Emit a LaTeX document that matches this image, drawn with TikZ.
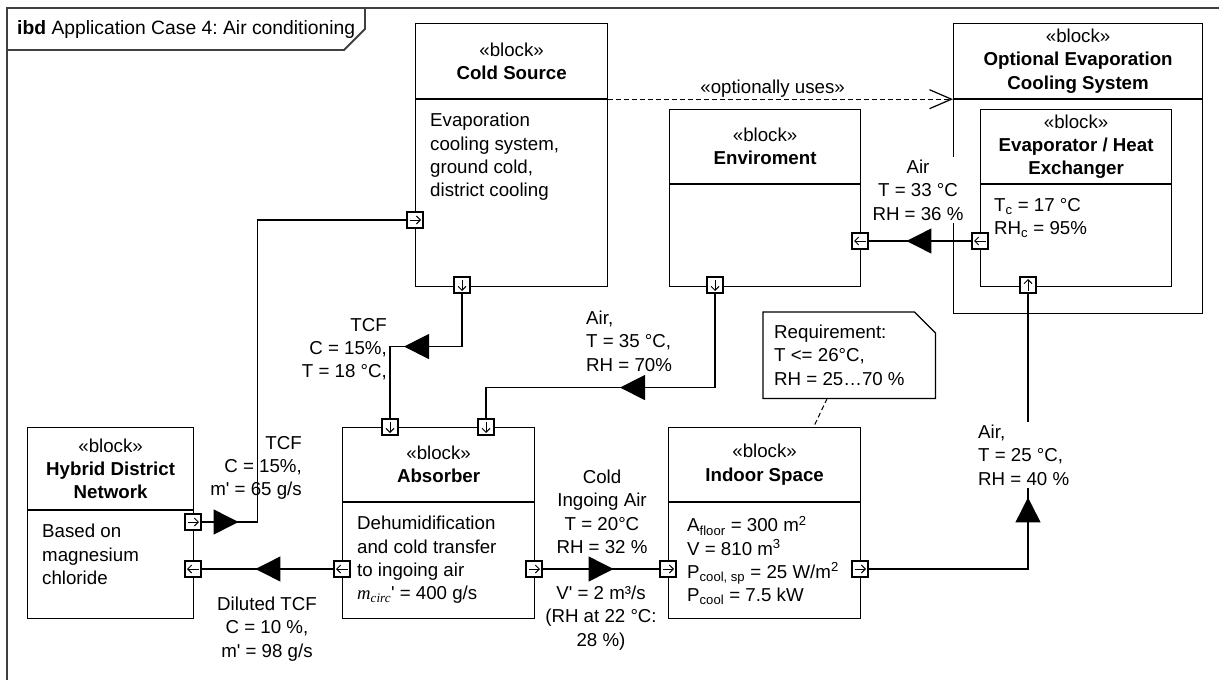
\documentclass[tikz,border=0pt]{standalone}
\usepackage{fontspec}
\setmainfont{Liberation Sans}
\newfontfamily\timesfont{Liberation Serif}
\usetikzlibrary{arrows.meta,decorations.markings,positioning}
\frenchspacing

\begin{document}
\begin{tikzpicture}[x=1pt, y=-1pt,
    font=\fontsize{18.7}{23.2}\selectfont,
    frameline/.style={draw=black!75, line width=1.8pt},
    blockhead/.style={draw, line width=1.2pt, anchor=north west, align=center, inner sep=0pt},
    blockbody/.style={draw, line width=1.2pt, anchor=north, inner sep=0pt},
    bodytext/.style={anchor=north west, align=left, inner sep=0pt},
    flowlabel/.style={inner sep=0pt},
    portbox/.style={draw, fill=white, line width=1.1pt, minimum size=16pt, inner sep=0pt},
    portE/.style={portbox, path picture={\draw[line width=0.9pt, -{Straight Barb[length=4pt,width=8pt]}]
        ([xshift=2.5pt]path picture bounding box.west) -- ([xshift=-2pt]path picture bounding box.east);}},
    portW/.style={portbox, path picture={\draw[line width=0.9pt, -{Straight Barb[length=4pt,width=8pt]}]
        ([xshift=-2.5pt]path picture bounding box.east) -- ([xshift=2pt]path picture bounding box.west);}},
    portN/.style={portbox, path picture={\draw[line width=0.9pt, -{Straight Barb[length=4pt,width=8pt]}]
        ([yshift=2.5pt]path picture bounding box.south) -- ([yshift=-2pt]path picture bounding box.north);}},
    portS/.style={portbox, path picture={\draw[line width=0.9pt, -{Straight Barb[length=4pt,width=8pt]}]
        ([yshift=-2.5pt]path picture bounding box.north) -- ([yshift=2pt]path picture bounding box.south);}},
    conn/.style={line width=1.2pt},
    flow/.style={decoration={markings, mark=at position #1 with {\arrow{Triangle[length=25pt,width=25pt]}}},
        postaction={decorate}},
  ]
  \useasboundingbox (0,0) rectangle (1219,680);
  % frame
  \draw[frameline] (7,680) -- (7,8) -- (1219,8);
  \draw[frameline] (7,50) -- (344,50) -- (365,29) -- (365,8);
  \node[anchor=west, inner sep=0pt, font=\fontsize{19.3}{23}\selectfont] (title) at (17,30) {\textbf{ibd} Application Case 4: Air conditioning};

  % Blocks
  \node[blockhead, minimum width=192, minimum height=75] (cs-head) at (415,23) {«block»\\\textbf{Cold Source}};
  \node[blockbody, minimum width=192, minimum height=187] (cs) at (cs-head.south) {};
  \node[bodytext] (cs-txt) at ([xshift=15pt, yshift=-14pt]cs.north west)
    {Evaporation\\cooling system,\\ground cold,\\district cooling};

  \node[blockhead, minimum width=249, minimum height=75] (oe-head) at (953,23) {«block»\\\textbf{Optional Evaporation}\\\textbf{Cooling System}};
  \node[blockbody, minimum width=249, minimum height=214] (oe) at (oe-head.south) {};

  \node[blockhead, minimum width=191, minimum height=74] (ev-head) at (980,109) {«block»\\\textbf{Evaporator / Heat}\\\textbf{Exchanger}};
  \node[blockbody, minimum width=191, minimum height=102] (ev) at (ev-head.south) {};
  \node[bodytext] (ev-txt) at ([xshift=14pt, yshift=-14pt]ev.north west)
    {T\textsubscript{c} = 17 °C\\RH\textsubscript{c} = 95\%};

  \node[blockhead, minimum width=191, minimum height=74] (env-head) at (669,109) {«block»\\\textbf{Enviroment}};
  \node[blockbody, minimum width=191, minimum height=102] (env) at (env-head.south) {};

  \node[blockhead, minimum width=192, minimum height=74] (abs-head) at (342,427) {«block»\\\textbf{Absorber}};
  \node[blockbody, minimum width=192, minimum height=116] (abs) at (abs-head.south) {};
  \node[bodytext] (abs-txt) at ([xshift=15pt, yshift=-14pt]abs.north west)
    {Dehumidification\\and cold transfer\\to ingoing air\\{\timesfont\itshape m\textsubscript{circ}}\textquotesingle{} = 400 g/s};

  \node[blockhead, minimum width=192, minimum height=74] (is-head) at (668,427) {«block»\\\textbf{Indoor Space}};
  \node[blockbody, minimum width=192, minimum height=116] (is) at (is-head.south) {};
  \node[bodytext] (is-txt) at ([xshift=19pt, yshift=-14pt]is.north west)
    {A\textsubscript{floor} = 300 m\textsuperscript{2}\\V = 810 m\textsuperscript{3}\\P\textsubscript{cool, sp} = 25 W/m\textsuperscript{2}\\P\textsubscript{cool} = 7.5 kW};

  \node[blockhead, minimum width=166, minimum height=82] (hdn-head) at (27,427) {«block»\\\textbf{Hybrid District}\\\textbf{Network}};
  \node[blockbody, minimum width=166, minimum height=108] (hdn) at (hdn-head.south) {};
  \node[bodytext] (hdn-txt) at ([xshift=15pt, yshift=-14pt]hdn.north west)
    {Based on\\magnesium\\chloride};

  % Requirement note
  \node[minimum width=172, minimum height=86, anchor=north west, inner sep=0pt] (req) at (763,312) {};
  \draw[line width=1.2pt] (req.north west) -- ([xshift=-21pt]req.north east) -- ([yshift=-21pt]req.north east)
    -- (req.south east) -- (req.south west) -- cycle;
  \node[bodytext] (req-txt) at (774,325) {Requirement:\\T <= 26°C,\\RH = 25…70 \%};
  \draw[line width=1pt, dash pattern=on 5pt off 3pt] ([xshift=-22pt]req.south) -- ([xshift=49pt]is-head.north);

  % Ports
  \node[portE] (cs-in) at (415,220) {};
  \node[portS] (cs-out) at (462,285) {};
  \node[portW] (env-in) at (860,241) {};
  \node[portS] (env-out) at (715,285) {};
  \node[portW] (ev-out) at (980,241) {};
  \node[portN] (ev-in) at (1028,285) {};
  \node[portS] (abs-in1) at (390,427) {};
  \node[portS] (abs-in2) at (486,427) {};
  \node[portW] (abs-out1) at (342,569) {};
  \node[portE] (abs-out2) at (534,569) {};
  \node[portE] (hdn-out) at (193,522) {};
  \node[portW] (hdn-in) at (193,569) {};
  \node[portE] (is-in) at (668,569) {};
  \node[portE] (is-out) at (860,569) {};

  % Flows
  \draw[line width=1.2pt, dash pattern=on 5pt off 3pt, -{Straight Barb[length=22pt,width=19pt]}]
    (cs-head.south east) -- node[above=1pt, xshift=-8pt, flowlabel] (dep) {«optionally uses»} (oe-head.south west);
  \draw[conn, flow=65pt] (ev-out.west) -- (env-in.east);
  \draw[conn, flow=189pt] (env-out.south) -- ++(0,94) -| (abs-in2.north);
  \draw[conn, flow=111pt] (cs-out.south) -- ++(0,53) -| (abs-in1.north);
  \draw[conn, flow=37pt] (hdn-out.east) -- ++(56,0) |- (cs-in.west);
  \draw[conn, flow=78pt] (abs-out1.west) -- (hdn-in.east);
  \draw[conn, flow=71pt] (abs-out2.east) -- (is-in.west);
  \draw[conn, flow=231pt] (is-out.east) -| (ev-in.south);

  % Flow labels
  \node[flowlabel, fill=white, inner sep=3pt, align=center, anchor=north] (air-out) at (918,157) {Air\\T = 33 °C\\ RH = 36 \%};
  \node[flowlabel, align=left, anchor=north west] (air-in) at (586,311) {Air,\\T = 35 °C,\\RH = 70\%};
  \node[flowlabel, align=right, anchor=north east] (tcf-cold) at (387,318) {TCF\\C = 15\%,\\T = 18 °C,};
  \node[flowlabel, align=right, anchor=north east] (tcf-hot) at (302,436) {TCF\\C = 15\%,\\m\textquotesingle{} = 65 g/s};
  \node[flowlabel, align=center, anchor=north] (tcf-dil) at (267,597) {Diluted TCF\\C = 10 \%,\\m\textquotesingle{} = 98 g/s};
  \node[flowlabel, align=center, anchor=north] (cold-air) at (602,470) {Cold\\Ingoing Air\\T = 20°C\\RH = 32 \%};
  \node[flowlabel, align=center, anchor=north] (cold-vol) at (601,586) {V\textquotesingle{} = 2 m³/s\\(RH at 22 °C:\\28 \%)};
  \node[flowlabel, fill=white, inner sep=3pt, align=left, anchor=north west] (air-room) at (975,422) {Air,\\T = 25 °C,\\RH = 40 \%};
\end{tikzpicture}
\end{document}
